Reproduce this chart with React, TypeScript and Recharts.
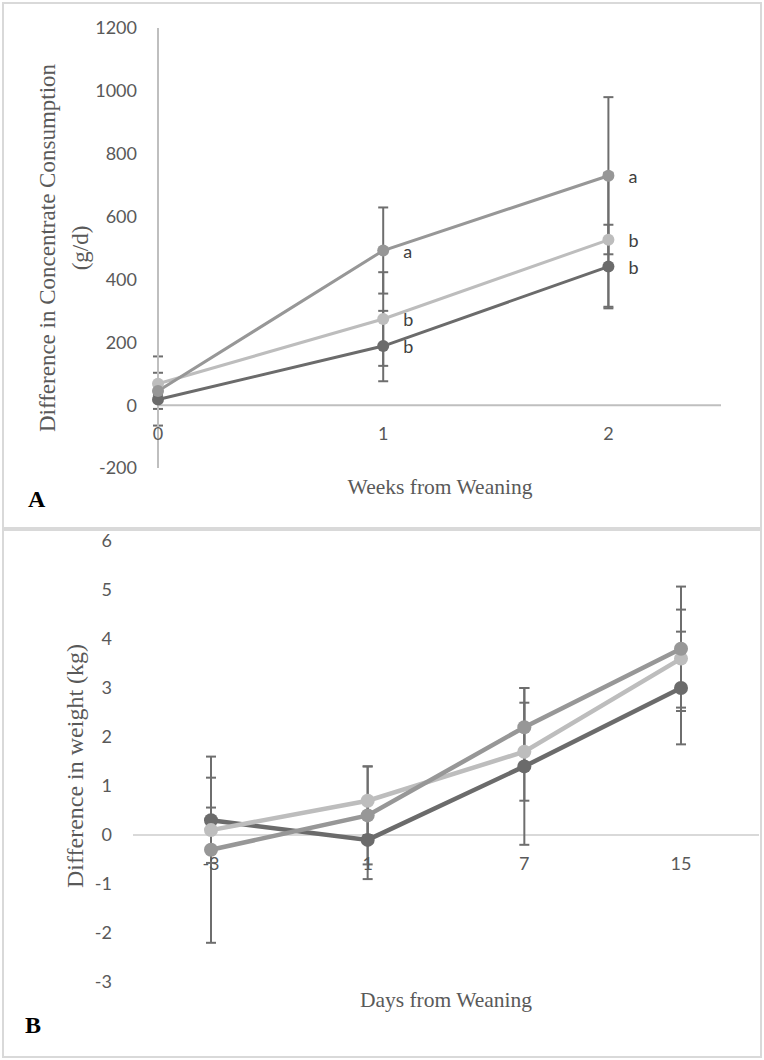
import React from 'react';
import { LineChart, Line, XAxis, YAxis, ErrorBar, ReferenceLine } from 'recharts';

// ---------- Panel A: concentrate consumption ----------
const weeks = [0, 1, 2];
const weekTicks = [0, 1, 2];
const concTicks = [-200, 0, 200, 400, 600, 800, 1000, 1200];
const concDark = [18, 188, 441];
const concDarkErr = [30, 112, 133];
const concMid = [45, 492, 730];
const concMidErr = [110, 137, 250];
const concLight = [68, 274, 526];
const concLightErr = [35, 149, 213];
const lettersMid = ['', 'a', 'a'];
const lettersLight = ['', 'b', 'b'];
const lettersDark = ['', 'b', 'b'];

// ---------- Panel B: weight ----------
const days = ['-3', '1', '7', '15'];
const wtTicks = [-3, -2, -1, 0, 1, 2, 3, 4, 5, 6];
const wtDark = [0.3, -0.1, 1.4, 3.0];
const wtDarkErr = [0.87, 0.8, 1.6, 1.15];
const wtMid = [-0.3, 0.4, 2.2, 3.8];
const wtMidErr = [1.9, 1.0, 0.8, 1.27];
const wtLight = [0.1, 0.7, 1.7, 3.6];
const wtLightErr = [0.46, 0.7, 1.0, 1.0];

const DARK = '#6b6b6b';
const MID = '#979797';
const LIGHT = '#bdbdbd';
const ERR = '#6e6e6e';
const AXIS = '#bfbfbf';
const ZERO = '#d9d9d9';
const TXT = '#595959';
const SANS = 'Lato, "Open Sans", sans-serif';
const SERIF = '"Liberation Serif", "DejaVu Serif", serif';

const dataA = weeks.map((w, i) => ({
  week: w,
  dark: concDark[i], darkErr: concDarkErr[i],
  mid: concMid[i], midErr: concMidErr[i],
  light: concLight[i], lightErr: concLightErr[i],
}));

const dataB = days.map((d, i) => ({
  day: d,
  dark: wtDark[i], darkErr: wtDarkErr[i],
  mid: wtMid[i], midErr: wtMidErr[i],
  light: wtLight[i], lightErr: wtLightErr[i],
}));

const ShiftTick = (props: any) => {
  const { x, y, payload, shift } = props;
  return (
    <text x={x} y={y + shift} textAnchor="middle" dominantBaseline="central"
      fill={TXT} fontSize={18} fontFamily={SANS}>{payload.value}</text>
  );
};

const makeLetter = (letters: string[]) => (props: any) => {
  const x = props.x ?? props.viewBox?.x;
  const y = props.y ?? props.viewBox?.y;
  const t = letters[props.index];
  if (!t || x == null || y == null) return <g key={`e${props.index}`} />;
  return (
    <text key={`l${props.index}`} x={x + 20} y={y} dominantBaseline="central"
      fill="#404040" fontSize={18} fontFamily={SANS}>{t}</text>
  );
};

const tickStyle = { fill: TXT, fontSize: 18, fontFamily: SANS };

export default function App() {
  return (
    <div style={{ position: 'absolute', left: 0, top: 0, width: 764, height: 1060, background: '#fff' }}>
      <div style={{ position: 'absolute', left: 2, top: 2, width: 760, height: 527, border: '2px solid #d9d9d9', boxSizing: 'border-box' }} />
      <div style={{ position: 'absolute', left: 2, top: 529, width: 760, height: 529, border: '2px solid #d9d9d9', boxSizing: 'border-box' }} />

      <div style={{ position: 'absolute', left: 0, top: 0 }}>
        <LineChart width={764} height={528} data={dataA}
          margin={{ top: 28, right: 43, bottom: 30, left: 0 }}>
          <XAxis dataKey="week" type="number" domain={[0, 2.5]} ticks={weekTicks}
            axisLine={false} tickLine={false} height={30} interval={0}
            tick={(p: any) => <ShiftTick {...p} shift={-43} />} />
          <YAxis type="number" domain={[-200, 1200]} ticks={concTicks} interval={0}
            width={158} axisLine={{ stroke: AXIS, strokeWidth: 2 }} tickLine={false}
            tickMargin={15} tick={tickStyle} />
          <ReferenceLine y={0} stroke={AXIS} strokeWidth={2} />
          <Line dataKey="dark" stroke={DARK} strokeWidth={3} isAnimationActive={false}
            dot={{ r: 6, fill: DARK, stroke: DARK, strokeWidth: 0 }} activeDot={false}
            label={makeLetter(lettersDark)}>
            <ErrorBar dataKey="darkErr" width={5} stroke={ERR} strokeWidth={2} direction="y" />
          </Line>
          <Line dataKey="light" stroke={LIGHT} strokeWidth={3} isAnimationActive={false}
            dot={{ r: 6, fill: LIGHT, stroke: LIGHT, strokeWidth: 0 }} activeDot={false}
            label={makeLetter(lettersLight)}>
            <ErrorBar dataKey="lightErr" width={5} stroke={ERR} strokeWidth={2} direction="y" />
          </Line>
          <Line dataKey="mid" stroke={MID} strokeWidth={3} isAnimationActive={false}
            dot={{ r: 6, fill: MID, stroke: MID, strokeWidth: 0 }} activeDot={false}
            label={makeLetter(lettersMid)}>
            <ErrorBar dataKey="midErr" width={5} stroke={ERR} strokeWidth={2} direction="y" />
          </Line>
        </LineChart>
      </div>

      <div style={{ position: 'absolute', left: 0, top: 529 }}>
        <LineChart width={764} height={531} data={dataB}
          margin={{ top: 12, right: 5, bottom: 48, left: 0 }}>
          <XAxis dataKey="day" type="category" padding={{ left: 78, right: 78 }}
            axisLine={false} tickLine={false} height={30} interval={0}
            tick={(p: any) => <ShiftTick {...p} shift={-127} />} />
          <YAxis type="number" domain={[-3, 6]} ticks={wtTicks} interval={0}
            width={133} axisLine={false} tickLine={false} tickMargin={15} tick={tickStyle} />
          <ReferenceLine y={0} stroke={ZERO} strokeWidth={2} />
          <Line dataKey="dark" stroke={DARK} strokeWidth={4.5} isAnimationActive={false}
            dot={{ r: 7, fill: DARK, stroke: DARK, strokeWidth: 0 }} activeDot={false}>
            <ErrorBar dataKey="darkErr" width={5} stroke={ERR} strokeWidth={2} direction="y" />
          </Line>
          <Line dataKey="light" stroke={LIGHT} strokeWidth={4.5} isAnimationActive={false}
            dot={{ r: 7, fill: LIGHT, stroke: LIGHT, strokeWidth: 0 }} activeDot={false}>
            <ErrorBar dataKey="lightErr" width={5} stroke={ERR} strokeWidth={2} direction="y" />
          </Line>
          <Line dataKey="mid" stroke={MID} strokeWidth={4.5} isAnimationActive={false}
            dot={{ r: 7, fill: MID, stroke: MID, strokeWidth: 0 }} activeDot={false}>
            <ErrorBar dataKey="midErr" width={5} stroke={ERR} strokeWidth={2} direction="y" />
          </Line>
        </LineChart>
      </div>

      <svg width={764} height={1060} style={{ position: 'absolute', left: 0, top: 0, pointerEvents: 'none' }}>
        <g fill={TXT} fontFamily={SERIF}>
          <text transform="translate(47,248) rotate(-90)" textAnchor="middle" dominantBaseline="central" fontSize={23}>
            Difference in Concentrate Consumption
          </text>
          <text transform="translate(80,248) rotate(-90)" textAnchor="middle" dominantBaseline="central" fontSize={23}>
            (g/d)
          </text>
          <text x={440} y={487} textAnchor="middle" dominantBaseline="central" fontSize={21.5}>
            Weeks from Weaning
          </text>
          <text transform="translate(75,766) rotate(-90)" textAnchor="middle" dominantBaseline="central" fontSize={24}>
            Difference in weight (kg)
          </text>
          <text x={446} y={1000} textAnchor="middle" dominantBaseline="central" fontSize={21.5}>
            Days from Weaning
          </text>
        </g>
        <text x={28} y={507} fontFamily={SERIF} fontWeight="bold" fontSize={24} fill="#000">A</text>
        <text x={25} y={1033} fontFamily={SERIF} fontWeight="bold" fontSize={24} fill="#000">B</text>
      </svg>
    </div>
  );
}
